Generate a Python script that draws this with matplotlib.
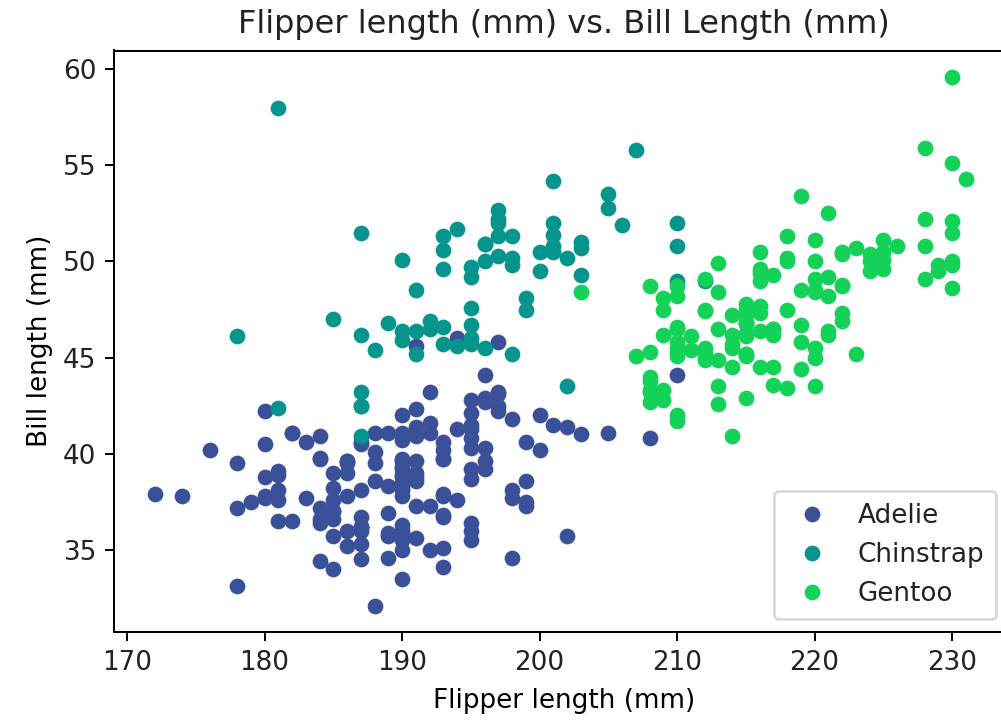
import matplotlib
matplotlib.use("Agg")
import matplotlib.pyplot as plt

species = ["Adelie", "Chinstrap", "Gentoo"]
colors = ["#3a5199", "#05958d", "#14d158"]

adelie_flipper = [181, 186, 195, 193, 190, 181, 195, 193, 190, 186, 180, 182, 191, 198, 185, 195, 197, 184, 194,
                  174, 180, 189, 185, 180, 187, 183, 187, 172, 180, 178, 178, 188, 184, 195, 196, 190, 180, 181,
                  184, 182, 195, 186, 196, 185, 190, 182, 179, 190, 191, 186, 188, 190, 200, 187, 191, 186, 193,
                  181, 194, 185, 195, 185, 192, 184, 192, 195, 188, 190, 198, 190, 190, 196, 197, 190, 195, 191,
                  184, 187, 195, 189, 196, 187, 193, 191, 194, 190, 189, 189, 190, 202, 205, 185, 186, 187, 208,
                  190, 196, 178, 192, 192, 203, 183, 190, 193, 184, 199, 190, 181, 197, 198, 191, 193, 197, 191,
                  196, 188, 199, 189, 189, 187, 198, 176, 202, 186, 199, 191, 195, 191, 210, 190, 197, 193, 199,
                  187, 190, 191, 200, 185, 193, 193, 187, 188, 190, 192, 185, 190, 184, 195, 193, 187, 201]
adelie_bill = [39.1, 39.5, 40.3, 36.7, 39.3, 38.9, 39.2, 34.1, 42.0, 37.8, 37.8, 41.1, 38.6, 34.6, 36.6, 38.7,
               42.5, 34.4, 46.0, 37.8, 37.7, 35.9, 38.2, 38.8, 35.3, 40.6, 40.5, 37.9, 40.5, 39.5, 37.2, 39.5,
               40.9, 36.4, 39.2, 38.8, 42.2, 37.6, 39.8, 36.5, 40.8, 36.0, 44.1, 37.0, 39.6, 41.1, 37.5, 36.0,
               42.3, 39.6, 40.1, 35.0, 42.0, 34.5, 41.4, 39.0, 40.6, 36.5, 37.6, 35.7, 41.3, 37.6, 41.1, 36.4,
               41.6, 35.5, 41.1, 35.9, 41.8, 33.5, 39.7, 39.6, 45.8, 35.5, 42.8, 40.9, 37.2, 36.2, 42.1, 34.6,
               42.9, 36.7, 35.1, 37.3, 41.3, 36.3, 36.9, 38.3, 38.9, 35.7, 41.1, 34.0, 39.6, 36.2, 40.8, 38.1,
               40.3, 33.1, 43.2, 35.0, 41.0, 37.7, 37.8, 37.9, 39.7, 38.6, 38.2, 38.1, 43.2, 38.1, 45.6, 39.7,
               42.2, 39.6, 42.7, 38.6, 37.3, 35.7, 41.1, 36.2, 37.7, 40.2, 41.4, 35.2, 40.6, 38.8, 41.5, 39.0,
               44.1, 38.5, 43.1, 36.8, 37.5, 38.1, 41.1, 35.6, 40.2, 37.0, 39.7, 40.2, 40.6, 32.1, 40.7, 37.3,
               39.0, 39.2, 36.6, 36.0, 37.8, 36.0, 41.5]

chinstrap_flipper = [192, 196, 193, 188, 197, 198, 178, 197, 195, 198, 193, 194, 185, 201, 190, 201, 197, 181,
                     190, 195, 181, 191, 187, 193, 195, 197, 200, 200, 191, 205, 187, 201, 187, 203, 195, 199,
                     195, 210, 192, 205, 210, 187, 196, 196, 196, 201, 190, 212, 187, 198, 199, 201, 193, 203,
                     187, 197, 191, 203, 202, 194, 206, 189, 195, 207, 202, 193, 210, 198]
chinstrap_bill = [46.5, 50.0, 51.3, 45.4, 52.7, 45.2, 46.1, 51.3, 46.0, 51.3, 46.6, 51.7, 47.0, 52.0, 45.9,
                  50.5, 50.3, 58.0, 46.4, 49.2, 42.4, 48.5, 43.2, 50.6, 46.7, 52.0, 50.5, 49.5, 46.4, 52.8,
                  40.9, 54.2, 42.5, 51.0, 49.7, 47.5, 47.6, 52.0, 46.9, 53.5, 49.0, 46.2, 50.9, 45.5, 50.9,
                  50.8, 50.1, 49.0, 51.5, 49.8, 48.1, 51.4, 45.7, 50.7, 42.5, 52.2, 45.2, 49.3, 50.2, 45.6,
                  51.9, 46.8, 45.7, 55.8, 43.5, 49.6, 50.8, 50.2]

gentoo_flipper = [211, 230, 210, 218, 215, 210, 211, 219, 209, 215, 214, 216, 214, 213, 210, 217, 210, 221,
                  209, 222, 218, 215, 213, 215, 215, 215, 216, 215, 210, 220, 222, 209, 207, 230, 220, 220,
                  213, 219, 208, 208, 208, 225, 210, 216, 222, 217, 210, 225, 213, 215, 210, 220, 210, 225,
                  217, 220, 208, 220, 208, 224, 208, 221, 214, 231, 219, 230, 214, 229, 220, 223, 216, 221,
                  221, 217, 216, 230, 209, 220, 215, 223, 212, 221, 212, 224, 212, 228, 218, 218, 212, 230,
                  218, 228, 212, 224, 214, 226, 216, 222, 203, 225, 219, 228, 215, 228, 216, 215, 210, 219,
                  208, 209, 216, 229, 213, 230, 217, 230, 217, 222, 214, 215, 222, 212, 213]
gentoo_bill = [46.1, 50.0, 48.7, 50.0, 47.6, 46.5, 45.4, 46.7, 43.3, 46.8, 40.9, 49.0, 45.5, 48.4, 45.8, 49.3,
               42.0, 49.2, 46.2, 48.7, 50.2, 45.1, 46.5, 46.3, 42.9, 46.1, 44.5, 47.8, 48.2, 50.0, 47.3, 42.8,
               45.1, 59.6, 49.1, 48.4, 42.6, 44.4, 44.0, 48.7, 42.7, 49.6, 45.3, 49.6, 50.5, 43.6, 45.5, 50.5,
               44.9, 45.2, 46.6, 48.5, 45.1, 50.1, 46.5, 45.0, 43.8, 45.5, 43.2, 50.4, 45.3, 46.2, 45.7, 54.3,
               45.8, 49.8, 46.2, 49.5, 43.5, 50.7, 47.7, 46.4, 48.2, 46.5, 46.4, 48.6, 47.5, 51.1, 45.2, 45.2,
               49.1, 52.5, 47.4, 50.0, 44.9, 50.8, 43.4, 51.3, 47.5, 52.1, 47.5, 52.2, 45.5, 49.5, 44.5, 50.8,
               49.4, 46.9, 48.4, 51.1, 48.5, 55.9, 47.2, 49.1, 47.3, 46.8, 41.7, 53.4, 43.3, 48.1, 50.5, 49.8,
               43.5, 51.5, 46.2, 55.1, 44.5, 48.8, 47.2, 46.8, 50.4, 45.2, 49.9]

flippers = [adelie_flipper, chinstrap_flipper, gentoo_flipper]
bills = [adelie_bill, chinstrap_bill, gentoo_bill]

plt.rcParams["font.size"] = 10.5
plt.rcParams["text.color"] = "#222222"
plt.rcParams["xtick.labelcolor"] = "#222222"
plt.rcParams["ytick.labelcolor"] = "#222222"

fig = plt.figure(figsize=(1001 / 180, 720 / 180), dpi=180)
# right spine falls just outside the picture, as in the reference
ax = fig.add_axes([114 / 1001, 88 / 720, 900 / 1001, 581.5 / 720])
ax.spines["right"].set_visible(False)

for name, fl, bl, c in zip(species, flippers, bills, colors):
    ax.plot(fl, bl, "o", color=c, ms=6.3, mew=0, label=name)

ax.set_xlim(169.05, 234.5)
ax.set_title("Flipper length (mm) vs. Bill Length (mm)", fontsize=12.8, pad=7)
ax.set_xlabel("Flipper length (mm)", labelpad=5)
ax.set_ylabel("Bill length (mm)")
ax.legend(loc="lower right", bbox_to_anchor=(0.995, 0.0), labelspacing=0.5,
          borderpad=0.45, handletextpad=0.75)

fig.savefig("out.png", dpi=180)
